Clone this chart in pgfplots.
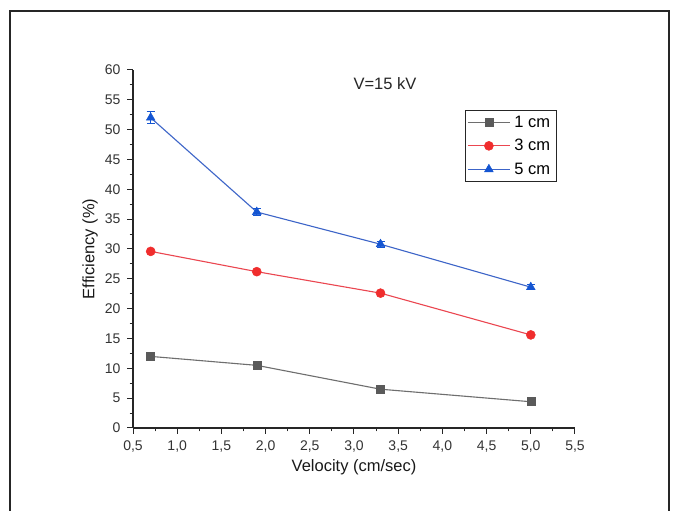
\documentclass[border=0pt]{standalone}
\usepackage{pgfplots}
\pgfplotsset{compat=1.18}
\usepackage{fontspec}
\setmainfont{Liberation Sans}
\definecolor{cgray}{RGB}{90,90,90}
\definecolor{cgrayl}{RGB}{110,110,110}
\definecolor{cred}{RGB}{240,45,45}
\definecolor{credl}{RGB}{235,70,80}
\definecolor{cblue}{RGB}{20,85,210}
\definecolor{cbluel}{RGB}{60,100,200}
\begin{document}
\begin{tikzpicture}[x=1pt,y=1pt]
\path[use as bounding box] (0,0) rectangle (675,511);
\clip (0,0) rectangle (675,511);
\fill[white] (0,0) rectangle (675,511);
\draw[line width=2pt, black!85] (10,-20) rectangle (669,500);
\begin{axis}[
  at={(133pt,83pt)}, anchor=south west,
  scale only axis, width=442pt, height=358pt,
  xmin=0.5, xmax=5.5, ymin=0, ymax=60,
  axis x line*=bottom, axis y line*=left,
  axis line style={line width=1.2pt, black!85},
  every tick/.style={line width=1pt, black!85},
  tick align=outside,
  major tick length=6pt, minor tick length=3.5pt,
  xtick={0.5,1,1.5,2,2.5,3,3.5,4,4.5,5,5.5},
  ytick={0,5,10,15,20,25,30,35,40,45,50,55,60},
  minor x tick num=1, minor y tick num=1,
  x tick label style={yshift=-3pt},
  y tick label style={xshift=-3pt},
  xticklabel style={/pgf/number format/.cd, fixed, fixed zerofill, precision=1, use comma},
  /pgf/number format/assume math mode=true,
  tick label style={font=\fontsize{14}{16}\selectfont, black!80},
  xlabel={Velocity (cm/sec)},
  ylabel={Efficiency (\%)},
  label style={font=\fontsize{16.5}{19}\selectfont, black!90},
  xlabel style={at={(axis description cs:0.5,-0.11)}, anchor=center},
  ylabel style={at={(axis description cs:-0.097,0.5)}, anchor=center},
  legend style={at={(axis description cs:0.751,0.888)}, anchor=north west,
    draw=black!85, line width=0.8pt, font=\fontsize{16.5}{19}\selectfont,
    inner xsep=2pt, inner ysep=3.5pt, row sep=6.5pt,
    nodes={inner xsep=4pt}},
  legend cell align=left,
  legend image code/.code={\draw[mark repeat=2,mark phase=2] plot coordinates {(0pt,0pt)(21pt,0pt)(42pt,0pt)};},
  clip=false,
]
\addplot[cgrayl, line width=1.1pt, mark=square*, mark size=4pt,
  mark options={cgray, fill=cgray, line width=0.5pt}]
  coordinates {(0.7,12.0) (1.9,10.5) (3.3,6.5) (5.0,4.4)};
\addlegendentry{1 cm}
\addplot[credl, line width=1.1pt, mark=*, mark size=4.5pt,
  mark options={cred, fill=cred, line width=0.5pt}]
  coordinates {(0.7,29.6) (1.9,26.2) (3.3,22.6) (5.0,15.6)};
\addlegendentry{3 cm}
\addplot[cbluel, line width=1.1pt, mark=triangle*, mark size=5pt,
  mark options={cblue, fill=cblue, line width=0.5pt},
  error bars/.cd, y dir=both, y explicit,
  error bar style={cblue, line width=1pt},
  error mark options={cblue, rotate=90, mark size=4pt, line width=1pt}]
  coordinates {(0.7,52.0) +- (0,1.0) (1.9,36.2) +- (0,0.6) (3.3,30.8) +- (0,0.5) (5.0,23.6) +- (0,0.4)};
\addlegendentry{5 cm}
\node[font=\fontsize{16.5}{19}\selectfont, black!85] at (axis description cs:0.570,0.962) {V=15 kV};
\end{axis}
\end{tikzpicture}
\end{document}
